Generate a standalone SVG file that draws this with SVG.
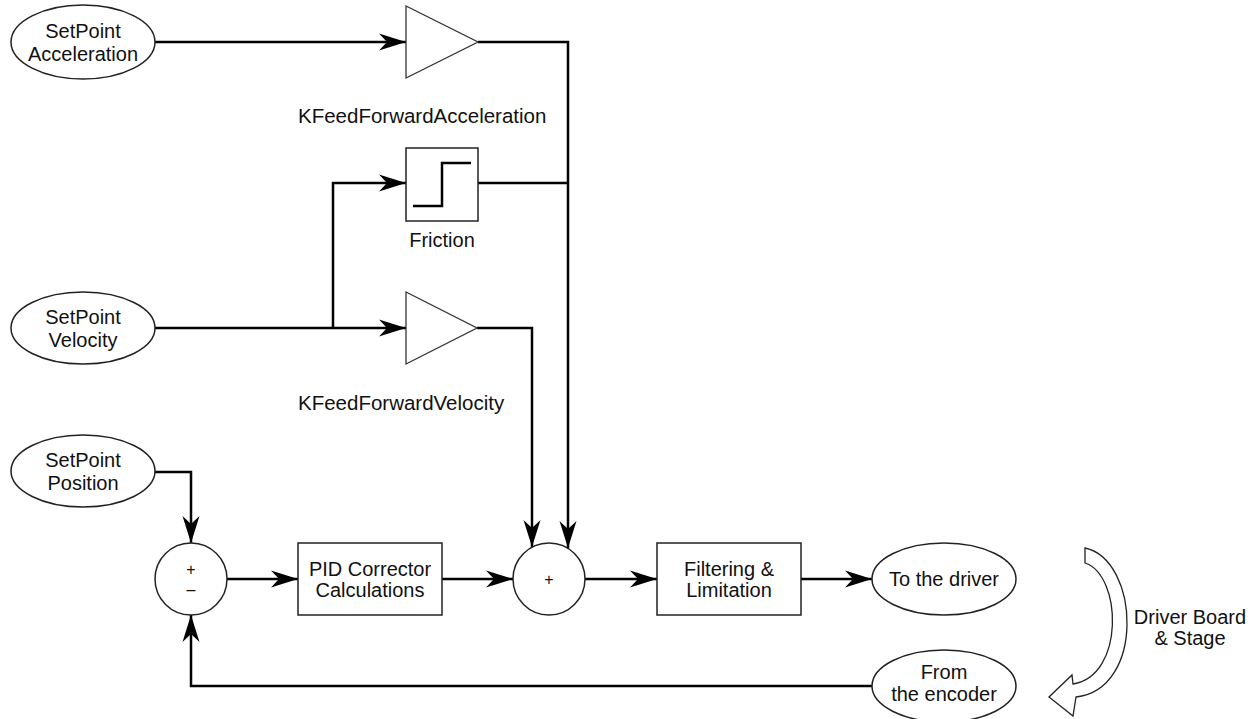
<svg xmlns="http://www.w3.org/2000/svg" width="1260" height="719" viewBox="0 0 1260 719">
<style>
.shape{fill:#fff;stroke:#222;stroke-width:1.5}
.tri{fill:#fff;stroke:#333;stroke-width:1.3}
.wire{fill:none;stroke:#000;stroke-width:2.5}
.t{font-family:"Liberation Sans",Arial,sans-serif;font-size:20px;fill:#111;text-anchor:middle}
.ts{font-family:"Liberation Sans",Arial,sans-serif;font-size:16px;fill:#111;text-anchor:middle}
.lab{font-family:"Liberation Sans",Arial,sans-serif;font-size:20.5px;fill:#111}
</style>
<defs>
<marker id="arr" markerUnits="userSpaceOnUse" markerWidth="30" markerHeight="20" viewBox="-28 -10 30 20" refX="0" refY="0" orient="auto">
<path d="M0,0 L-27,-8.5 L-19,0 L-27,8.5 Z" fill="#000"/>
</marker>
</defs>
<rect width="1260" height="719" fill="#fff"/>
<g id="connectors">
<path class="wire" d="M155,42 H406" marker-end="url(#arr)"/>
<path class="wire" d="M478,42 H568 V548" marker-end="url(#arr)"/>
<path class="wire" d="M155,328 H406" marker-end="url(#arr)"/>
<path class="wire" d="M333,328 V183 H406" marker-end="url(#arr)"/>
<path class="wire" d="M478,183 H568"/>
<path class="wire" d="M477,328 H532 V547" marker-end="url(#arr)"/>
<path class="wire" d="M155,472 H191 V543" marker-end="url(#arr)"/>
<path class="wire" d="M227,579 H298" marker-end="url(#arr)"/>
<path class="wire" d="M442,579 H513" marker-end="url(#arr)"/>
<path class="wire" d="M585,579 H657" marker-end="url(#arr)"/>
<path class="wire" d="M801,579 H872" marker-end="url(#arr)"/>
<path class="wire" d="M872,686 H191 V615" marker-end="url(#arr)"/>
</g>
<g id="sp-accel">
<ellipse class="shape" cx="83" cy="42" rx="72" ry="37"/>
<text class="t" x="83" y="38">SetPoint</text>
<text class="t" x="83" y="61">Acceleration</text>
</g>
<g id="kff-accel">
<polygon class="tri" points="406,6 406,78 478,42"/>
<text class="lab" x="298" y="123">KFeedForwardAcceleration</text>
</g>
<g id="friction">
<rect class="shape" x="406" y="148" width="72" height="73"/>
<path class="wire" d="M413,206 H442 V163 H471"/>
<text class="t" x="442" y="247">Friction</text>
</g>
<g id="sp-velocity">
<ellipse class="shape" cx="83" cy="328" rx="72" ry="36"/>
<text class="t" x="83" y="324">SetPoint</text>
<text class="t" x="83" y="347">Velocity</text>
</g>
<g id="kff-velocity">
<polygon class="tri" points="406,292 406,364 477,328"/>
<text class="lab" x="298" y="410">KFeedForwardVelocity</text>
</g>
<g id="sp-position">
<ellipse class="shape" cx="83" cy="471" rx="72" ry="36"/>
<text class="t" x="83" y="467">SetPoint</text>
<text class="t" x="83" y="490">Position</text>
</g>
<g id="sum1">
<circle class="shape" cx="191" cy="579" r="36"/>
<text class="ts" x="191" y="575">+</text>
<text class="ts" x="191" y="595">–</text>
</g>
<g id="pid">
<rect class="shape" x="298" y="543" width="144" height="72"/>
<text class="t" x="370" y="576">PID Corrector</text>
<text class="t" x="370" y="597">Calculations</text>
</g>
<g id="sum2">
<circle class="shape" cx="549" cy="579" r="36"/>
<text class="ts" x="549" y="585">+</text>
</g>
<g id="filter">
<rect class="shape" x="657" y="543" width="144" height="72"/>
<text class="t" x="729" y="576">Filtering &amp;</text>
<text class="t" x="729" y="597">Limitation</text>
</g>
<g id="to-driver">
<ellipse class="shape" cx="944" cy="579" rx="72" ry="36"/>
<text class="t" x="944" y="586">To the driver</text>
</g>
<g id="from-encoder">
<ellipse class="shape" cx="944" cy="686" rx="72" ry="36"/>
<text class="t" x="944" y="679">From</text>
<text class="t" x="944" y="701">the encoder</text>
</g>
<g id="driver-stage">
<path class="shape" style="stroke-width:1.3" d="M1085,548 C1140,560 1145,690 1076,697 L1073,716 L1049,697 L1072,675 L1073,684 C1125,676 1122,575 1085,563 Z"/>
<text class="t" x="1190" y="624">Driver Board</text>
<text class="t" x="1190" y="645">&amp; Stage</text>
</g>
</svg>
